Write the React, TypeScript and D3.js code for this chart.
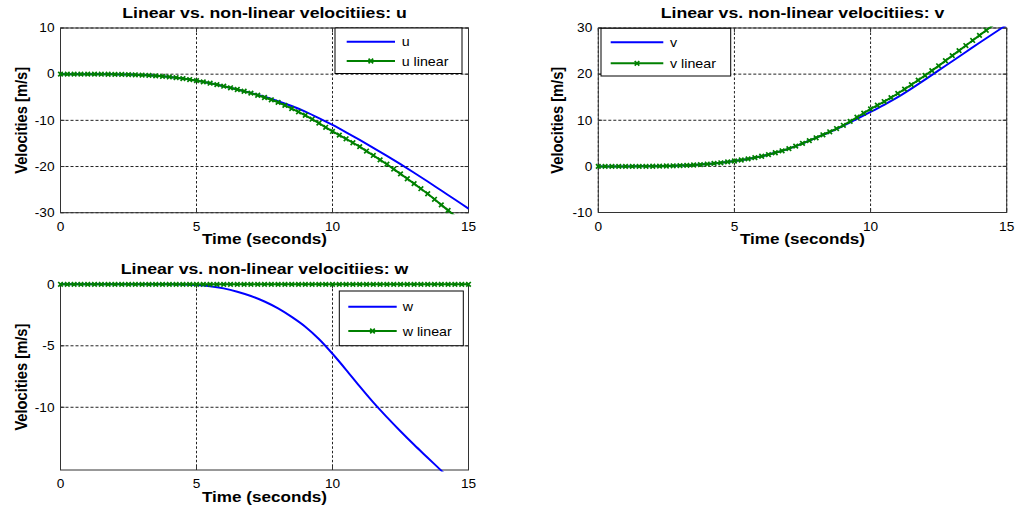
import React from 'react';
import * as d3 from 'd3';

// Sample times (s): linearised model sampled every 0.25 s, non-linear every 0.5 s
const TIME_Q = [
  0, 0.25, 0.5, 0.75, 1, 1.25, 1.5, 1.75, 2, 2.25, 2.5, 2.75, 3, 3.25, 3.5, 3.75,
  4, 4.25, 4.5, 4.75, 5, 5.25, 5.5, 5.75, 6, 6.25, 6.5, 6.75, 7, 7.25, 7.5, 7.75,
  8, 8.25, 8.5, 8.75, 9, 9.25, 9.5, 9.75, 10, 10.25, 10.5, 10.75, 11, 11.25, 11.5, 11.75,
  12, 12.25, 12.5, 12.75, 13, 13.25, 13.5, 13.75, 14, 14.25, 14.5, 14.75, 15,
];
const TIME_H = [
  0, 0.5, 1, 1.5, 2, 2.5, 3, 3.5, 4, 4.5, 5, 5.5, 6, 6.5, 7, 7.5,
  8, 8.5, 9, 9.5, 10, 10.5, 11, 11.5, 12, 12.5, 13, 13.5, 14, 14.5, 15,
];

// Velocities (m/s)
const U_NONLINEAR = [
  0, 0, 0, -0.01, -0.04, -0.09, -0.2, -0.36, -0.6, -0.95, -1.4, -1.95, -2.6, -3.3, -4.05, -4.9,
  -5.85, -6.9, -8.1, -9.5, -11.0, -12.6, -14.25, -15.95, -17.7, -19.5, -21.35, -23.25, -25.2, -27.15, -29.1,
];
const U_LINEAR = [
  0, 0, 0, 0, 0, 0, -0.01, -0.02, -0.04, -0.06, -0.09, -0.14, -0.2, -0.27, -0.36, -0.47,
  -0.6, -0.76, -0.95, -1.16, -1.4, -1.66, -1.95, -2.26, -2.6, -2.95, -3.32, -3.7, -4.1, -4.56, -5.05, -5.55,
  -6.1, -6.75, -7.45, -8.15, -8.9, -9.75, -10.6, -11.5, -12.4, -13.2, -14.0, -14.85, -15.7, -16.65, -17.6, -18.55,
  -19.5, -20.55, -21.6, -22.65, -23.7, -24.8, -25.9, -27.1, -28.3, -29.5, -30.7, -31.9, -33.1,
];
const V_NONLINEAR = [
  0, 0, 0, 0.01, 0.03, 0.08, 0.17, 0.3, 0.5, 0.78, 1.16, 1.62, 2.2, 2.95, 3.84, 4.98,
  6.2, 7.45, 8.8, 10.3, 11.8, 13.35, 15.0, 16.85, 18.8, 20.8, 22.8, 24.8, 26.8, 28.75, 30.7,
];
const V_LINEAR = [
  0, 0, 0, 0, 0, 0, 0.01, 0.02, 0.03, 0.05, 0.08, 0.12, 0.17, 0.23, 0.3, 0.39,
  0.5, 0.63, 0.78, 0.96, 1.16, 1.38, 1.62, 1.9, 2.2, 2.55, 2.95, 3.38, 3.84, 4.4, 4.98, 5.58,
  6.2, 6.85, 7.5, 8.2, 8.9, 9.75, 10.65, 11.55, 12.45, 13.25, 14.05, 14.9, 15.8, 16.75, 17.7, 18.7,
  19.7, 20.75, 21.8, 22.9, 24.0, 25.1, 26.2, 27.3, 28.4, 29.5, 30.6, 31.7, 32.8,
];
const W_NONLINEAR = [
  0, 0, 0, 0, 0, 0, 0, 0, 0, -0.01, -0.05, -0.15, -0.33, -0.6, -0.95, -1.4,
  -1.96, -2.65, -3.45, -4.45, -5.65, -6.95, -8.3, -9.6, -10.8, -11.95, -13.05, -14.1, -15.15, -16.2, -17.2,
];
const W_LINEAR = [
  0, 0, 0, 0, 0, 0, 0, 0, 0, 0, 0, 0, 0, 0, 0, 0,
  0, 0, 0, 0, 0, 0, 0, 0, 0, 0, 0, 0, 0, 0, 0, 0,
  0, 0, 0, 0, 0, 0, 0, 0, 0, 0, 0, 0, 0, 0, 0, 0,
  0, 0, 0, 0, 0, 0, 0, 0, 0, 0, 0, 0, 0,
];

// Axis limits and tick labels
const X_DOMAIN = [0, 15];
const X_TICKS = [0, 5, 10, 15];
const U_DOMAIN = [-30, 10];
const U_TICKS = [10, 0, -10, -20, -30];
const V_DOMAIN = [-10, 30];
const V_TICKS = [30, 20, 10, 0, -10];
const W_DOMAIN = [-15.1, 0];
const W_TICKS = [0, -5, -10];

const FONT = "'Liberation Sans', Arial, Helvetica, sans-serif";
const STRETCH = 1.14;
const BLUE = '#0000ff';
const GREEN = '#008000';

type TxtProps = {
  x: number; y: number; size: number; bold?: boolean;
  anchor?: 'start' | 'middle' | 'end'; rotate?: boolean; children: React.ReactNode;
};

function Txt({ x, y, size, bold, anchor = 'start', rotate, children }: TxtProps) {
  const tr = `translate(${x},${y}) scale(${STRETCH},1)${rotate ? ' rotate(-90)' : ''}`;
  return (
    <text transform={tr} fontSize={size} fontWeight={bold ? 'bold' : 'normal'}
      textAnchor={anchor} fontFamily={FONT} fill="#000">{children}</text>
  );
}

function XMark({ cx, cy }: { cx: number; cy: number }) {
  const r = 2.3;
  return (
    <path d={`M${cx - r},${cy - r}L${cx + r},${cy + r}M${cx - r},${cy + r}L${cx + r},${cy - r}`}
      stroke={GREEN} strokeWidth={1.7} fill="none" />
  );
}

type LegendBox = { x0: number; x1: number; y0: number; y1: number; rows: [number, number]; l0: number; l1: number; tx: number };

type PanelProps = {
  id: string; name: string;
  left: number; right: number; top: number; bottom: number;
  yDomain: number[]; yTicks: number[];
  nonlinear: number[]; linear: number[];
  ylabelX: number; legend: LegendBox;
};

function Panel(p: PanelProps) {
  const x = d3.scaleLinear().domain(X_DOMAIN).range([p.left, p.right]);
  const y = d3.scaleLinear().domain(p.yDomain).range([p.bottom, p.top]);
  const lineH = d3.line<number>().x((_, i) => x(TIME_H[i])).y(d => y(d)).curve(d3.curveMonotoneX);
  const lineQ = d3.line<number>().x((_, i) => x(TIME_Q[i])).y(d => y(d));
  const [lo, hi] = p.yDomain;
  const inside = (v: number) => v >= lo - 1e-9 && v <= hi + 1e-9;
  const tickLen = 4;
  const pad = 1.5;
  const L = p.legend;
  const midL = (L.l0 + L.l1) / 2;
  return (
    <g>
      <defs>
        <clipPath id={`clip-${p.id}`}>
          <rect x={p.left - pad} y={p.top - pad} width={p.right - p.left + 2 * pad} height={p.bottom - p.top + 2 * pad} />
        </clipPath>
      </defs>
      <rect x={p.left} y={p.top} width={p.right - p.left} height={p.bottom - p.top} fill="#fff" />
      {/* grid */}
      {X_TICKS.map(t => (
        <line key={`gx${t}`} x1={x(t)} x2={x(t)} y1={p.top} y2={p.bottom}
          stroke="#222" strokeWidth={1} strokeDasharray="2.5,2" />
      ))}
      {p.yTicks.map(t => (
        <line key={`gy${t}`} x1={p.left} x2={p.right} y1={y(t)} y2={y(t)}
          stroke="#222" strokeWidth={1} strokeDasharray="3,2" />
      ))}
      {/* tick marks */}
      {X_TICKS.map(t => (
        <g key={`tx${t}`} stroke="#333" strokeWidth={1}>
          <line x1={x(t)} x2={x(t)} y1={p.bottom} y2={p.bottom - tickLen} />
          <line x1={x(t)} x2={x(t)} y1={p.top} y2={p.top + tickLen} />
        </g>
      ))}
      {p.yTicks.map(t => (
        <g key={`ty${t}`} stroke="#333" strokeWidth={1}>
          <line x1={p.left} x2={p.left + tickLen} y1={y(t)} y2={y(t)} />
          <line x1={p.right} x2={p.right - tickLen} y1={y(t)} y2={y(t)} />
        </g>
      ))}
      <rect x={p.left} y={p.top} width={p.right - p.left} height={p.bottom - p.top}
        fill="none" stroke="#333" strokeWidth={1} />
      {/* data */}
      <g clipPath={`url(#clip-${p.id})`}>
        <path d={lineH(p.nonlinear) || ''} fill="none" stroke={BLUE} strokeWidth={2} />
        <path d={lineQ(p.linear) || ''} fill="none" stroke={GREEN} strokeWidth={2} />
      </g>
      {p.linear.map((v, i) => inside(v) ? <XMark key={`m${i}`} cx={x(TIME_Q[i])} cy={y(v)} /> : null)}
      {/* tick labels */}
      {X_TICKS.map(t => (
        <Txt key={`lx${t}`} x={x(t)} y={p.bottom + 18} size={12} anchor="middle">{t}</Txt>
      ))}
      {p.yTicks.map(t => (
        <Txt key={`ly${t}`} x={p.left - 6} y={y(t) + 4.3} size={12} anchor="end">{t}</Txt>
      ))}
      {/* labels */}
      <Txt x={(p.left + p.right) / 2} y={p.top - 10.5} size={15.5} bold anchor="middle">
        {`Linear vs. non-linear velocitiies: ${p.name}`}
      </Txt>
      <Txt x={(p.left + p.right) / 2} y={p.bottom + 31.5} size={15} bold anchor="middle">Time (seconds)</Txt>
      <Txt x={p.ylabelX} y={(p.top + p.bottom) / 2} size={14.7} bold anchor="middle" rotate>Velocities [m/s]</Txt>
      {/* legend */}
      <rect x={L.x0} y={L.y0} width={L.x1 - L.x0} height={L.y1 - L.y0} fill="#fff" stroke="#000" strokeWidth={1} />
      <line x1={L.l0} x2={L.l1} y1={L.rows[0]} y2={L.rows[0]} stroke={BLUE} strokeWidth={2} />
      <Txt x={L.tx} y={L.rows[0] + 4.5} size={12.5}>{p.name}</Txt>
      <line x1={L.l0} x2={L.l1} y1={L.rows[1]} y2={L.rows[1]} stroke={GREEN} strokeWidth={2} />
      <XMark cx={midL} cy={L.rows[1]} />
      <Txt x={L.tx} y={L.rows[1] + 4.5} size={12.5}>{`${p.name} linear`}</Txt>
    </g>
  );
}

export default function App() {
  return (
    <svg width={1016} height={512} viewBox="0 0 1016 512"
      style={{ position: 'absolute', left: 0, top: 0, background: '#fff' }}>
      <rect x={0} y={0} width={1016} height={512} fill="#fff" />
      <Panel id="u" name="u" left={60.5} right={468.5} top={28} bottom={212.7}
        yDomain={U_DOMAIN} yTicks={U_TICKS} nonlinear={U_NONLINEAR} linear={U_LINEAR} ylabelX={26.5}
        legend={{ x0: 335, x1: 462, y0: 28, y1: 73.5, rows: [41.7, 61], l0: 346.7, l1: 395, tx: 401.7 }} />
      <Panel id="v" name="v" left={598.3} right={1006.7} top={28} bottom={212.5}
        yDomain={V_DOMAIN} yTicks={V_TICKS} nonlinear={V_NONLINEAR} linear={V_LINEAR} ylabelX={563.3}
        legend={{ x0: 601, x1: 730.7, y0: 28.3, y1: 76, rows: [42.3, 63.3], l0: 610.7, l1: 663.3, tx: 670 }} />
      <Panel id="w" name="w" left={60.5} right={468.5} top={284.3} bottom={470}
        yDomain={W_DOMAIN} yTicks={W_TICKS} nonlinear={W_NONLINEAR} linear={W_LINEAR} ylabelX={26.5}
        legend={{ x0: 339.3, x1: 463.3, y0: 291, y1: 345.7, rows: [306.7, 331], l0: 348.3, l1: 396.7, tx: 402.7 }} />
    </svg>
  );
}
